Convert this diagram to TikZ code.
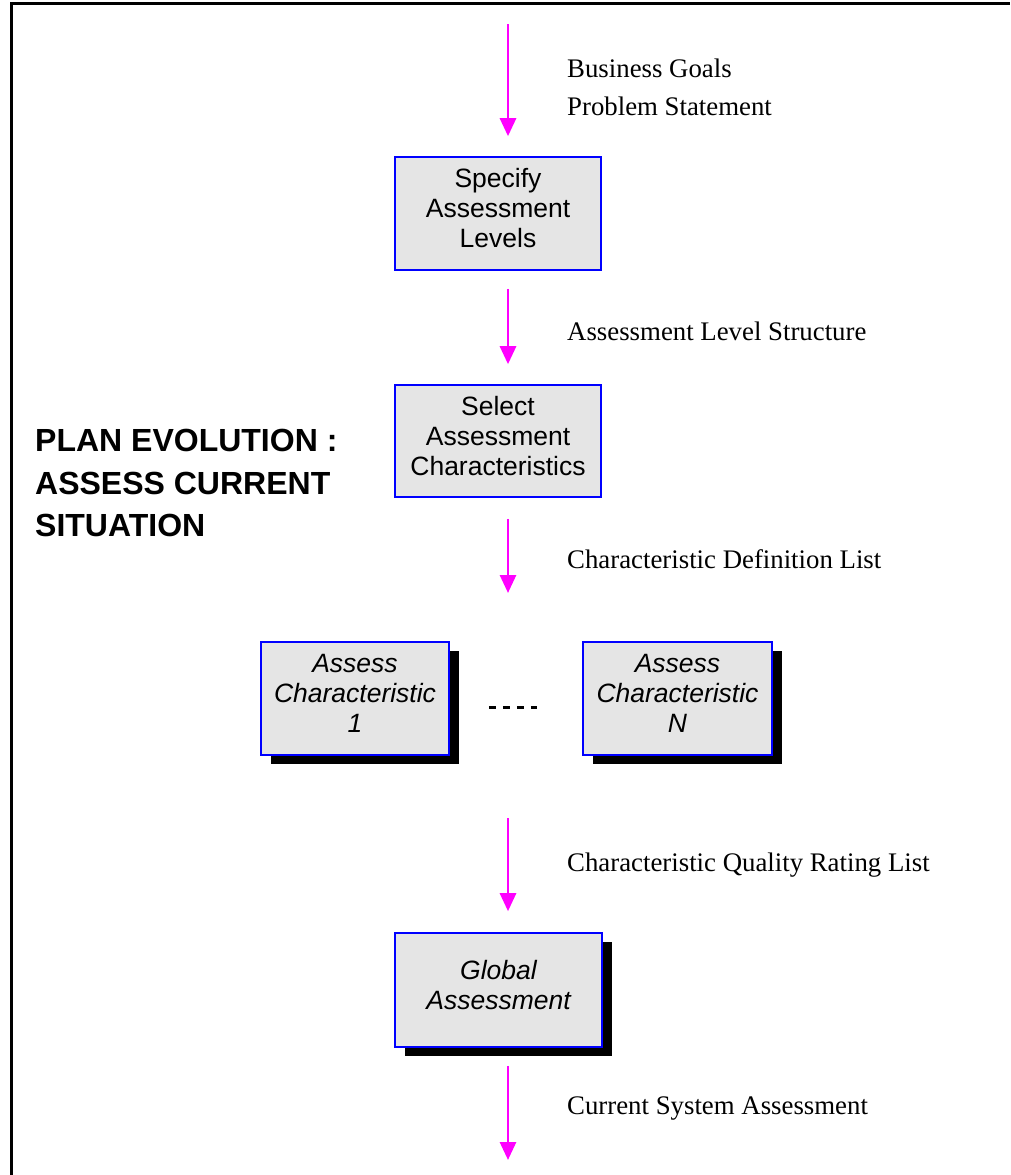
\documentclass[tikz,border=0pt]{standalone}
\usepackage{fontspec}
\setmainfont{Liberation Serif}
\setsansfont{Liberation Sans}
\usetikzlibrary{arrows.meta,shadows}
\definecolor{flowmag}{RGB}{255,0,255}
\definecolor{boxblue}{RGB}{0,0,255}
\definecolor{boxfill}{RGB}{229,229,229}
\newcommand\dpfix{\rule[-11pt]{0pt}{11pt}}
\begin{document}
\begin{tikzpicture}[x=1pt,y=-1pt,
 box/.style={draw=boxblue, line width=1.6pt, fill=boxfill, inner sep=0pt, align=center,
   font=\sffamily\fontsize{26.5}{30}\selectfont},
 sbox/.style={box, font=\sffamily\itshape\fontsize{26.5}{30}\selectfont,
   drop shadow={shadow xshift=10pt, shadow yshift=-9pt, fill=black, opacity=1}},
 flow/.style={draw=flowmag, line width=2.8pt, -{Triangle[width=16pt,length=18pt]}},
 lbl/.style={anchor=base west, inner sep=0pt, font=\fontsize{26.8}{38}\selectfont},
]
\useasboundingbox (0,0) rectangle (1010,1175);
\draw[line width=3.5pt] (11.5,1175) -- (11.5,3.5) -- (1010,3.5);

% title
\node[anchor=north west, inner sep=0pt, align=left,
  font=\sffamily\bfseries\fontsize{32}{42.5}\selectfont] (title) at (35,429)
  {PLAN EVOLUTION :\\ASSESS CURRENT\\SITUATION};

% boxes
\node[box, minimum width=206pt, minimum height=113pt] (s1) at (498,213.5)
  {Specify\\Assessment\\Levels\dpfix};
\node[box, minimum width=206pt, minimum height=112pt] (s2) at (498,441)
  {Select\\Assessment\\Characteristics\dpfix};
\node[sbox, minimum width=188pt, minimum height=113pt] (a1) at (355,698.5)
  {Assess\\Characteristic\\1\dpfix};
\node[sbox, minimum width=189pt, minimum height=113pt] (aN) at (677.5,698.5)
  {Assess\\Characteristic\\N\dpfix};
\node[sbox, minimum width=207pt, minimum height=114pt] (g) at (498.5,990)
  {Global\\Assessment\dpfix};

% connectors
\coordinate (top) at (508,24);
\coordinate (c3) at (508,593);
\coordinate (c4) at (508,818);
\coordinate (out) at (508,1160);
\draw[flow, shorten >=20pt] (top) -- (top |- s1.north);
\draw[flow, shorten <=18pt, shorten >=20pt] (top |- s1.south) -- (top |- s2.north);
\draw[flow, shorten <=21pt] (top |- s2.south) -- (c3);
\draw[flow, shorten >=21pt] (c4) -- (top |- g.north);
\draw[flow, shorten <=18pt] (top |- g.south) -- (out);

\draw[line width=3pt, dash pattern=on 7pt off 7pt, shorten <=39pt, shorten >=45pt]
  ([yshift=-8.5pt]a1.east) -- ([yshift=-8.5pt]aN.west);

% labels
\node[lbl] (l1a) at (567,77) {Business Goals};
\node[lbl] (l1b) at (567,115) {Problem Statement};
\node[lbl] (l2) at (567,340) {Assessment Level Structure};
\node[lbl] (l3) at (567,568) {Characteristic Definition List};
\node[lbl] (l4) at (567,871) {Characteristic Quality Rating List};
\node[lbl] (l5) at (567,1114) {Current System Assessment};
\end{tikzpicture}
\end{document}
